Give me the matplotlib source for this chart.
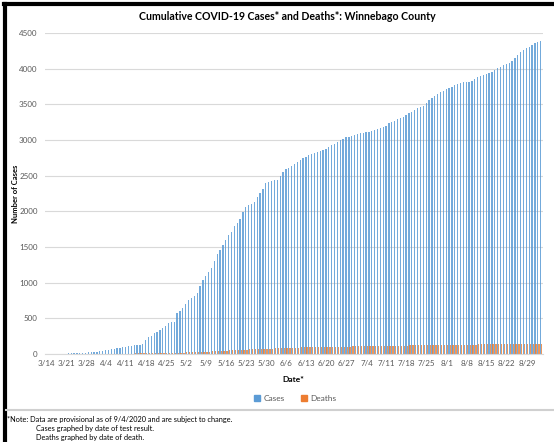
import numpy as np
import matplotlib.pyplot as plt
from matplotlib.lines import Line2D
from matplotlib.patches import Patch
import datetime as dt

# daily cumulative counts, 3/14/2020 .. 9/3/2020 (one row per week)
cases = [
    1, 1, 2, 3, 4, 5, 6,
    7, 8, 9, 11, 13, 15, 17,
    20, 23, 27, 30, 33, 40, 46,
    52, 58, 64, 70, 80, 90, 98,
    105, 112, 117, 122, 126, 130, 135,
    196, 243, 260, 290, 313, 340, 369,
    395, 430, 445, 453, 570, 610, 645,
    700, 760, 790, 820, 850, 960, 1037,
    1100, 1150, 1201, 1300, 1400, 1458, 1530,
    1600, 1668, 1710, 1790, 1832, 1900, 1990,
    2065, 2090, 2110, 2135, 2200, 2253, 2320,
    2393, 2410, 2425, 2435, 2440, 2500, 2556,
    2590, 2615, 2640, 2670, 2696, 2720, 2745,
    2770, 2790, 2800, 2815, 2830, 2845, 2860,
    2880, 2900, 2930, 2950, 2970, 3000, 3020,
    3040, 3050, 3060, 3075, 3084, 3095, 3105,
    3115, 3120, 3126, 3135, 3150, 3164, 3180,
    3200, 3234, 3250, 3270, 3290, 3304, 3330,
    3350, 3374, 3400, 3420, 3444, 3460, 3475,
    3520, 3561, 3590, 3615, 3645, 3670, 3690,
    3710, 3725, 3750, 3770, 3790, 3800, 3810,
    3815, 3818, 3830, 3855, 3880, 3895, 3910,
    3930, 3944, 3960, 3985, 4005, 4030, 4050,
    4070, 4084, 4110, 4146, 4190, 4238, 4270,
    4290, 4308, 4330, 4356, 4380, 4393,
]
deaths = [
    0, 0, 0, 0, 0, 0, 0,
    0, 0, 0, 0, 0, 0, 0,
    0, 0, 0, 0, 1, 1, 2,
    2, 3, 3, 4, 4, 5, 6,
    6, 7, 7, 8, 8, 9, 9,
    10, 10, 11, 12, 13, 14, 14,
    15, 16, 17, 18, 19, 20, 21,
    22, 23, 24, 26, 28, 30, 31,
    33, 35, 37, 39, 41, 43, 45,
    48, 50, 52, 54, 56, 58, 60,
    62, 64, 66, 67, 68, 70, 72,
    74, 76, 77, 79, 80, 82, 84,
    85, 87, 88, 90, 91, 92, 93,
    94, 95, 96, 97, 98, 99, 100,
    101, 102, 102, 103, 103, 104, 104,
    105, 105, 106, 106, 107, 107, 108,
    108, 109, 109, 110, 110, 111, 112,
    113, 113, 114, 115, 116, 117, 118,
    119, 120, 121, 122, 123, 123, 124,
    125, 125, 126, 126, 127, 127, 128,
    128, 129, 129, 130, 130, 131, 131,
    132, 132, 133, 133, 134, 134, 135,
    135, 136, 136, 137, 137, 138, 138,
    138, 139, 139, 140, 140, 140, 141,
    141, 141, 142, 142, 142, 143,
]
start = dt.date(2020, 3, 14)
dates = [start + dt.timedelta(days=i) for i in range(len(cases))]
labels = [f"{d.month}/{d.day}" for d in dates]

plt.rcParams['font.family'] = ['Lato', 'DejaVu Sans']
blue = '#5B9BD5'
orange = '#ED7D31'
grey = '#595959'

fig = plt.figure(figsize=(5.54, 4.42), dpi=100)
ax = fig.add_axes([0.0805, 0.199, 0.899, 0.726])

x = np.arange(len(cases))
ax.bar(x - 0.2, cases, width=0.45, color=blue, alpha=0.85, linewidth=0)
ax.bar(x + 0.2, deaths, width=0.45, color=orange, alpha=0.8, linewidth=0)

ax.set_xlim(-0.5, len(cases) - 0.5)
ax.set_ylim(0, 4500)
ax.set_yticks(range(0, 4501, 500))
ax.set_xticks(x[::7])
ax.set_xticklabels(labels[::7])
ax.tick_params(length=0, labelsize=5.8, labelcolor=grey, pad=4)
ax.tick_params(axis='y', pad=5)
ax.grid(axis='y', color='#D9D9D9', linewidth=0.8)
ax.set_axisbelow(True)
for s in ['top', 'right', 'left']:
    ax.spines[s].set_visible(False)
ax.spines['bottom'].set_color('#D9D9D9')

ax.set_ylabel('Number of Cases', fontsize=5.5, fontweight='bold')
ax.yaxis.set_label_coords(-0.051, 0.5)
ax.set_xlabel('Date*', fontsize=6, fontweight='bold', labelpad=7)
fig.text(0.518, 0.962, 'Cumulative COVID-19 Cases* and Deaths*: Winnebago County',
         ha='center', va='center', fontsize=7.6, fontweight='bold')

handles = [Patch(color=blue, label='Cases'), Patch(color=orange, label='Deaths')]
fig.legend(handles=handles, loc='center', bbox_to_anchor=(0.533, 0.099), ncol=2,
           frameon=False, fontsize=6, handlelength=0.7, handleheight=0.7,
           handletextpad=0.4, columnspacing=2.0, labelcolor=grey)

# frame lines of the screenshot
fig.add_artist(Line2D([0.009, 0.009], [0, 0.99], color='black', lw=3, transform=fig.transFigure))
fig.add_artist(Line2D([0.007, 1], [0.99, 0.99], color='black', lw=3, transform=fig.transFigure))
fig.add_artist(Line2D([0.011, 1], [0.072, 0.072], color='#D0D0D0', lw=1.5, transform=fig.transFigure))

fig.text(0.013, 0.052, '*Note: Data are provisional as of 9/4/2020 and are subject to change.',
         fontsize=5.3, va='center')
fig.text(0.065, 0.031, 'Cases graphed by date of test result.', fontsize=5.3, va='center')
fig.text(0.065, 0.011, 'Deaths graphed by date of death.', fontsize=5.3, va='center')

fig.savefig('out.png', dpi=100)
